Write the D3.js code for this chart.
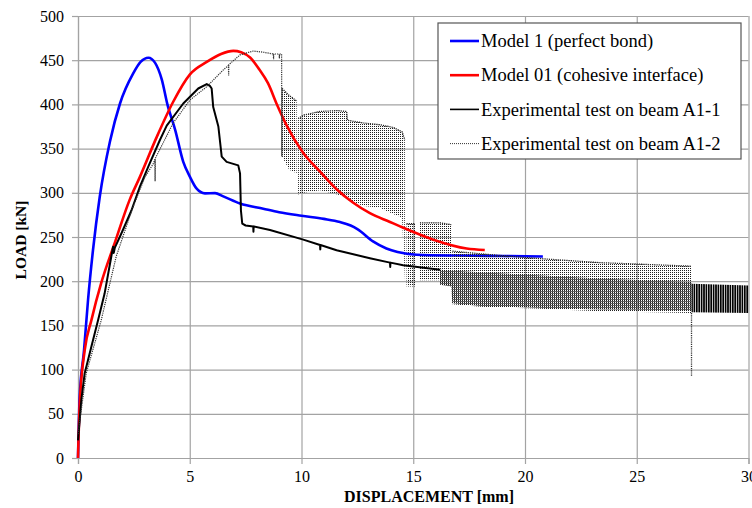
<!DOCTYPE html>
<html>
<head>
<meta charset="utf-8">
<script src="https://cdn.jsdelivr.net/npm/d3@7"></script>
<style>
  body { margin: 0; background: #fff; }
  svg { display: block; }
  svg text { font-family: 'Liberation Serif', 'Times New Roman', Times, serif !important; }
</style>
</head>
<body>
<svg id="chart" width="752" height="508"></svg>
<script>
// axis ticks
const xTicks = [0, 5, 10, 15, 20, 25, 30]
const yTicks = [0, 50, 100, 150, 200, 250, 300, 350, 400, 450, 500]

const legendLabels = [
  'Model 1 (perfect bond)',
  'Model 01 (cohesive interface)',
  'Experimental test on beam A1-1',
  'Experimental test on beam A1-2'
]

// [displacement mm, load kN]
const model1 = [[0, 0], [0.07, 66], [0.27, 122], [0.45, 179], [0.67, 235], [0.97, 295], [1.43, 358],
  [1.88, 401], [2.47, 435], [2.8, 448], [3.15, 452.8], [3.45, 447], [3.75, 428], [4.0, 400],
  [4.35, 371], [4.71, 335], [5.01, 318], [5.3, 305], [5.68, 299.4], [6.13, 299.6], [6.5, 296],
  [7.25, 288], [8.29, 282], [9, 278], [10, 274], [11, 270.5], [11.72, 267], [12.2, 263],
  [12.5, 259], [13.2, 245], [13.8, 237], [14.3, 233], [15.15, 230], [17, 229], [19, 228.5], [20.8, 228]]

const model01 = [[0, 0], [0.07, 58], [0.3, 122], [0.6, 156], [1.04, 198], [1.64, 243], [2.31, 292],
  [2.77, 318], [3.52, 363], [4.26, 403], [5.01, 434], [5.76, 448], [6.4, 457], [6.95, 460.5],
  [7.3, 459], [7.7, 453], [8.1, 440], [8.5, 424], [8.9, 400], [9.34, 376], [10.08, 345], [10.83, 324],
  [11.57, 304], [12.3, 289], [13.06, 277], [13.96, 267], [14.41, 262], [15.9, 247], [17.39, 237], [18.2, 235.3]]

const testA1_1 = [[0, 20], [0.15, 66], [0.3, 96], [0.6, 126], [0.9, 156], [1.19, 186], [1.49, 228],
  [1.57, 239], [1.6, 232], [1.65, 238], [1.94, 254], [2.39, 280], [2.77, 307], [3.15, 330],
  [3.67, 360], [3.97, 376], [4.71, 401], [5.38, 418], [5.76, 423], [5.9, 421], [5.98, 418],
  [6.05, 397], [6.28, 375], [6.43, 341], [6.65, 335], [7.17, 331], [7.25, 322], [7.29, 280],
  [7.35, 265], [7.5, 263], [7.84, 262], [7.85, 256], [7.86, 262], [8.59, 258], [10.08, 247],
  [10.83, 241], [10.84, 236], [10.85, 241], [11.57, 235], [13.06, 226], [13.96, 221], [13.97, 216],
  [13.98, 221], [14.55, 218], [16.2, 213]]

// oscillating part of A1-1: [displacement, upper load, lower load]
const testA1_1Band = [[16.2, 213, 196], [16.7, 212, 194], [16.75, 212, 175], [18, 210, 172],
  [20.4, 207, 170], [23.35, 203, 168], [27.45, 199, 167]]
const testA1_1EndBand = [[27.45, 197, 165], [30, 195, 164]]

const testA1_2 = [[0, 27], [0.37, 96], [1.04, 156], [1.71, 228], [2.46, 284], [3.0, 318], [3.37, 333],
  [3.44, 338], [3.45, 313], [3.46, 339], [4.26, 379], [5.01, 405], [5.76, 420], [6.5, 439],
  [6.73, 444], [6.74, 432], [6.75, 445], [7.25, 456], [7.84, 460.4], [8.3, 459], [8.74, 457],
  [8.75, 451], [8.76, 457], [9.0, 457], [9.01, 452], [9.02, 457], [9.11, 457], [9.12, 341], [9.13, 418]]

// unloading bursts of A1-2: [displacement, upper load, lower load]
const testA1_2Bursts = [
  [[9.13, 418, 341], [9.45, 410, 326], [9.78, 404, 322]],
  [[9.85, 384, 298], [10.1, 388, 300], [10.83, 392, 303], [11.6, 393, 298], [12.02, 392, 295],
   [12.06, 382, 292], [12.77, 379, 285], [13.5, 377, 283], [14.1, 374, 276], [14.5, 369, 272], [14.62, 360, 200]],
  [[14.7, 265, 194], [15.08, 265, 194]],
  [[15.3, 266, 201], [16.2, 266, 201], [16.7, 264, 201]]
]
const testA1_2Tail = [[16.75, 234, 174], [18, 231, 171], [20.4, 226, 169], [23.35, 221, 166], [27.45, 217, 164]]
const testA1_2Drop = [[27.45, 164], [27.45, 92]]

const svg = d3.select('#chart')
const x = d3.scaleLinear().domain([0, 30]).range([78, 748.5])
const y = d3.scaleLinear().domain([0, 500]).range([458, 16])
const plotW = x(30) - x(0)
const plotH = y(0) - y(500)
const serif = "'Liberation Serif', 'Times New Roman', Times, serif"

// patterns for dense oscillations
const defs = svg.append('defs')
const pDot = defs.append('pattern').attr('id', 'dotV').attr('patternUnits', 'userSpaceOnUse')
  .attr('width', 2).attr('height', 2)
pDot.append('rect').attr('width', 1).attr('height', 1).attr('fill', '#1e1e1e')
const pDense = defs.append('pattern').attr('id', 'denseV').attr('patternUnits', 'userSpaceOnUse')
  .attr('width', 2).attr('height', 2)
pDense.append('rect').attr('width', 1).attr('height', 1).attr('fill', '#111')
pDense.append('rect').attr('y', 1).attr('width', 1).attr('height', 1).attr('fill', '#555')
pDense.append('rect').attr('x', 1).attr('y', 1).attr('width', 1).attr('height', 1).attr('fill', '#666')
const pSolid = defs.append('pattern').attr('id', 'solidV').attr('patternUnits', 'userSpaceOnUse')
  .attr('width', 2.4).attr('height', 4)
pSolid.append('rect').attr('width', 1.7).attr('height', 4).attr('fill', '#000')

// gridlines
svg.append('g')
  .attr('transform', `translate(${x(0)},0)`)
  .call(d3.axisLeft(y).tickValues(yTicks).tickSize(-plotW).tickFormat(''))
  .call(g => g.select('.domain').remove())
  .call(g => g.selectAll('line').attr('stroke', '#a3a3a3').attr('stroke-width', 1.2))
svg.append('g')
  .attr('transform', `translate(0,${y(0)})`)
  .call(d3.axisBottom(x).tickValues(xTicks).tickSize(-plotH).tickFormat(''))
  .call(g => g.select('.domain').remove())
  .call(g => g.selectAll('line').attr('stroke', '#a3a3a3').attr('stroke-width', 1.2))

// axes with labels
const yAxis = svg.append('g')
  .attr('transform', `translate(${x(0)},0)`)
  .call(d3.axisLeft(y).tickValues(yTicks).tickSize(6).tickPadding(8))
const xAxis = svg.append('g')
  .attr('transform', `translate(0,${y(0)})`)
  .call(d3.axisBottom(x).tickValues(xTicks).tickSize(6).tickPadding(7))
;[yAxis, xAxis].forEach(g => {
  g.attr('font-family', serif).attr('font-size', 16)
  g.select('.domain').attr('stroke', '#a3a3a3').attr('stroke-width', 1.2)
  g.selectAll('line').attr('stroke', '#a3a3a3').attr('stroke-width', 1.2)
  g.selectAll('text').style('font-family', serif).attr('font-size', 16).attr('fill', '#000')
})

svg.append('text')
  .attr('x', 429).attr('y', 502)
  .attr('text-anchor', 'middle').attr('font-weight', 'bold').attr('font-size', 16)
  .style('font-family', serif)
  .text('DISPLACEMENT [mm]')
svg.append('text')
  .attr('transform', 'translate(26,240) rotate(-90)')
  .attr('text-anchor', 'middle').attr('font-weight', 'bold').attr('font-size', 15.5)
  .style('font-family', serif)
  .text('LOAD [kN]')

const line = d3.line().x(d => x(d[0])).y(d => y(d[1])).curve(d3.curveMonotoneX)
const rawLine = d3.line().x(d => x(d[0])).y(d => y(d[1]))
const band = d3.area().x(d => x(d[0])).y0(d => y(d[2])).y1(d => y(d[1]))
const bandTop = d3.line().x(d => x(d[0])).y(d => y(d[1]))

const plot = svg.append('g')

// early A1-2 bursts sit under the model curves
testA1_2Bursts.forEach(b => {
  plot.append('path').datum(b).attr('d', band).attr('fill', 'url(#dotV)')
})

plot.append('path').datum(model1).attr('d', line)
  .attr('fill', 'none').attr('stroke', '#0000ff').attr('stroke-width', 2.6)
plot.append('path').datum(model01).attr('d', line)
  .attr('fill', 'none').attr('stroke', '#ff0000').attr('stroke-width', 2.6)

// A1-1
plot.append('path').datum(testA1_1).attr('d', rawLine)
  .attr('fill', 'none').attr('stroke', '#000').attr('stroke-width', 2).attr('stroke-linejoin', 'round')
plot.append('path').datum(testA1_1Band).attr('d', band).attr('fill', 'url(#denseV)')
plot.append('path').datum(testA1_1EndBand).attr('d', band).attr('fill', 'url(#solidV)')

// A1-2
const dotted = sel => sel.attr('fill', 'none').attr('stroke', '#222')
  .attr('stroke-width', 1.3).attr('stroke-dasharray', '1.2,1')
plot.append('path').datum(testA1_2).attr('d', rawLine).call(dotted).attr('stroke', '#333').attr('stroke-width', 1.2)
testA1_2Bursts.forEach(b => {
  plot.append('path').datum(b).attr('d', bandTop).call(dotted)
})
plot.append('path').datum(testA1_2Tail).attr('d', band).attr('fill', 'url(#dotV)')
plot.append('path').datum(testA1_2Tail).attr('d', bandTop).call(dotted)
plot.append('path').datum(testA1_2Drop).attr('d', rawLine).call(dotted).attr('stroke', '#333')

// legend
const legendStyles = [
  { color: '#0000ff', width: 2.6, dash: null },
  { color: '#ff0000', width: 2.6, dash: null },
  { color: '#000', width: 1.6, dash: null },
  { color: '#333', width: 1, dash: '1,1' }
]
const legend = svg.append('g').attr('transform', 'translate(438,23)')
legend.append('rect').attr('width', 303).attr('height', 136)
  .attr('fill', '#fff').attr('stroke', '#555').attr('stroke-width', 1.2)
const rows = legend.selectAll('g.row').data(legendLabels).join('g')
  .attr('transform', (d, i) => `translate(0,${18 + i * 34.2})`)
rows.append('line').attr('x1', 12).attr('x2', 41)
  .attr('stroke', (d, i) => legendStyles[i].color)
  .attr('stroke-width', (d, i) => legendStyles[i].width)
  .attr('stroke-dasharray', (d, i) => legendStyles[i].dash)
rows.append('text').attr('x', 43).attr('dy', '0.33em')
  .attr('font-size', 18.5).style('font-family', serif).text(d => d)
</script>
</body>
</html>
